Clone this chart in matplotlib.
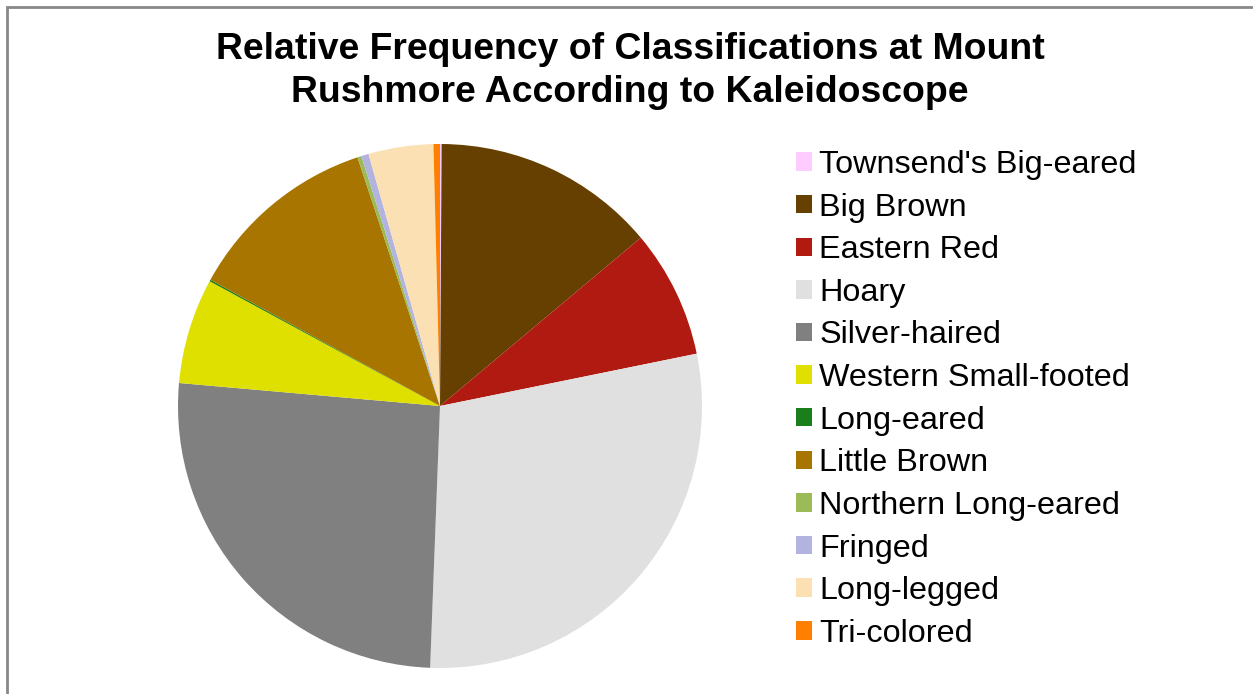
import matplotlib
matplotlib.use("Agg")
import matplotlib.pyplot as plt
from matplotlib.patches import Rectangle

plt.rcParams['font.family'] = ['Liberation Sans', 'DejaVu Sans']

species = ["Townsend's Big-eared", "Big Brown", "Eastern Red", "Hoary",
           "Silver-haired", "Western Small-footed", "Long-eared",
           "Little Brown", "Northern Long-eared", "Fringed", "Long-legged",
           "Tri-colored"]
rel_freq = [0.1, 13.8, 7.9, 28.8, 25.8, 6.5, 0.1, 11.9, 0.25, 0.45, 4.0, 0.4]
colors = ["#FFCCFF", "#664000", "#B01A10", "#E0E0E0", "#808080", "#E0E000",
          "#1A7F1A", "#A87600", "#9BBB59", "#B3B3E0", "#FBE0B4", "#FF8000"]

W, H = 1253, 694
fig = plt.figure(figsize=(W / 100, H / 100), dpi=100)

# Chart-area border (left and top edges visible)
fig.patches.append(Rectangle((6.5 / W, -0.05), 1.2, (H - 6.5) / H + 0.05,
                             transform=fig.transFigure, fill=False,
                             edgecolor="#888888", linewidth=2))

cx, cy, r = 440, 406, 262
ax = fig.add_axes([(cx - r) / W, (H - cy - r) / H, 2 * r / W, 2 * r / H])
wedges, _ = ax.pie(rel_freq, colors=colors, startangle=90, counterclock=False,
                   radius=1.0, wedgeprops=dict(linewidth=0))
ax.set_xlim(-1, 1)
ax.set_ylim(-1, 1)
ax.set_aspect("equal")
ax.axis("off")

fig.text(630 / W, 1 - 71 / H,
         "Relative Frequency of Classifications at Mount\nRushmore According to Kaleidoscope",
         ha="center", va="center", fontsize=26.9, fontweight="bold",
         linespacing=1.3)

leg = fig.legend(wedges, species, loc="upper left",
                 bbox_to_anchor=(796 / W, 1 - 150 / H), frameon=False,
                 fontsize=23.3, handlelength=0.5, handleheight=0.5,
                 handletextpad=0.22, labelspacing=0.39, borderpad=0,
                 borderaxespad=0)

fig.savefig("out.png", dpi=100)
